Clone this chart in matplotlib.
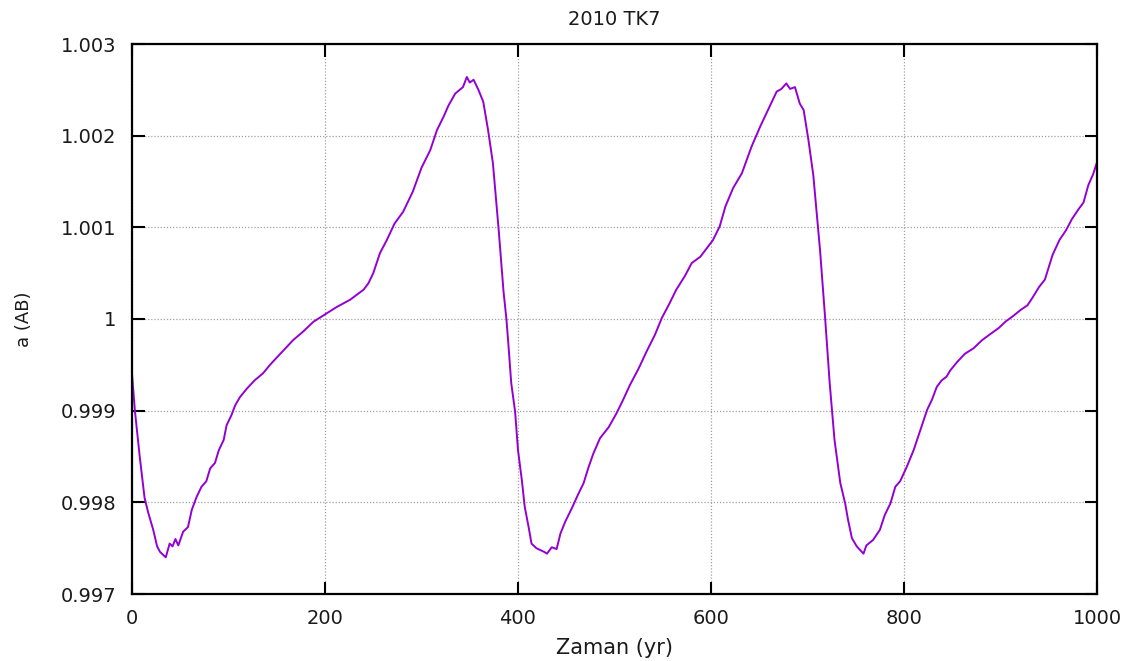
import matplotlib
matplotlib.use("Agg")
import matplotlib.pyplot as plt

# Time (yr) and semi-major axis a (AU)
t_yr = [0, 3, 8, 13, 17, 22, 26, 29, 32, 35, 39, 42, 45, 48, 53, 58, 62, 67, 72, 77,
        81, 86, 90, 95, 98, 103, 107, 112, 119, 127, 136, 143, 151, 159, 167, 177, 188, 200,
        212, 226, 240, 245, 250, 257, 264, 272, 281, 291, 300, 309, 316, 323, 328, 335, 343,
        347, 350, 354, 359, 364, 369, 374, 380, 385, 388, 390, 393, 397, 400, 404, 407, 411,
        414, 419, 423, 427, 430, 435, 440, 444, 449, 456, 462, 468, 473, 478, 485, 494, 502,
        509, 516, 525, 533, 542, 549, 557, 564, 573, 580, 589, 597, 602, 609, 615, 623, 632,
        642, 651, 659, 668, 673, 678, 682, 687, 692, 696, 701, 706, 713, 718, 723, 728, 734,
        739, 742, 746, 751, 758, 761, 768, 775, 780, 786, 791, 796, 803, 810, 817, 824, 829,
        834, 839, 844, 848, 855, 863, 872, 881, 890, 898, 905, 914, 921, 928, 933, 940, 946,
        949, 954, 961, 968, 974, 981, 986, 991, 996, 1000]

a_au = [0.99940, 0.99900, 0.99850, 0.99805, 0.99788, 0.99770, 0.99752, 0.99746, 0.99743, 0.99740,
        0.99755, 0.99752, 0.99760, 0.99753, 0.99768, 0.99773, 0.99792, 0.99806, 0.99817, 0.99823,
        0.99837, 0.99843, 0.99857, 0.99868, 0.99884, 0.99895, 0.99906, 0.99915, 0.99924, 0.99933,
        0.99941, 0.99950, 0.99959, 0.99968, 0.99977, 0.99986, 0.99997, 1.00005,
        1.00013, 1.00021, 1.00032, 1.00039, 1.00050, 1.00072, 1.00086, 1.00104, 1.00117, 1.00139,
        1.00165, 1.00184, 1.00206, 1.00221, 1.00233, 1.00246, 1.00253,
        1.00264, 1.00258, 1.00261, 1.00250, 1.00237, 1.00206, 1.00170, 1.00097, 1.00030, 1.00000,
        0.99973, 0.99930, 0.99899, 0.99857, 0.99824, 0.99795, 0.99773,
        0.99755, 0.99750, 0.99748, 0.99746, 0.99744, 0.99751, 0.99749, 0.99766, 0.99779, 0.99794,
        0.99808, 0.99821, 0.99838, 0.99853, 0.99870, 0.99882, 0.99897,
        0.99912, 0.99928, 0.99946, 0.99964, 0.99983, 1.00001, 1.00017, 1.00032, 1.00047, 1.00061,
        1.00068, 1.00079, 1.00086, 1.00101, 1.00123, 1.00143, 1.00159,
        1.00188, 1.00210, 1.00228, 1.00248, 1.00251, 1.00257, 1.00251, 1.00253, 1.00235, 1.00228,
        1.00195, 1.00157, 1.00075, 1.00005, 0.99930, 0.99868, 0.99821,
        0.99799, 0.99781, 0.99761, 0.99752, 0.99744, 0.99753, 0.99759, 0.99770, 0.99786, 0.99799,
        0.99817, 0.99823, 0.99839, 0.99857, 0.99879, 0.99901, 0.99912,
        0.99926, 0.99933, 0.99937, 0.99944, 0.99953, 0.99962, 0.99968, 0.99977, 0.99984, 0.99990,
        0.99997, 1.00004, 1.00010, 1.00015, 1.00023, 1.00035, 1.00043,
        1.00053, 1.00070, 1.00086, 1.00097, 1.00109, 1.00120, 1.00127, 1.00146, 1.00158, 1.00171]

x_ticks = [0, 200, 400, 600, 800, 1000]
x_tick_labels = ["0", "200", "400", "600", "800", "1000"]
y_ticks = [0.997, 0.998, 0.999, 1.000, 1.001, 1.002, 1.003]
y_tick_labels = ["0.997", "0.998", "0.999", "1", "1.001", "1.002", "1.003"]

title = "2010 TK7"
xlabel = "Zaman (yr)"
ylabel = "a (AB)"

fig = plt.figure(figsize=(11.38, 6.61), dpi=100)
ax = fig.add_axes([132 / 1138, 1 - 594 / 661, (1097 - 132) / 1138, (594 - 44) / 661])

ax.plot(t_yr, a_au, color="#9400D3", lw=1.4)

ax.set_xlim(0, 1000)
ax.set_ylim(0.997, 1.003)
ax.set_xticks(x_ticks)
ax.set_xticklabels(x_tick_labels)
ax.set_yticks(y_ticks)
ax.set_yticklabels(y_tick_labels)

ax.grid(True, color="#a0a0a0", linestyle=(0, (1, 1.5)), linewidth=0.9)
ax.set_axisbelow(True)

for s in ax.spines.values():
    s.set_linewidth(1.6)
    s.set_color("black")

ax.tick_params(direction="in", length=9, width=1.5, top=True, right=True,
               labelsize=14, colors="black", pad=11)
for lab in ax.get_xticklabels() + ax.get_yticklabels():
    lab.set_color("#1a1a1a")

ax.set_title(title, fontsize=14, pad=14, color="#1a1a1a")
ax.set_xlabel(xlabel, fontsize=15, labelpad=7, color="#1a1a1a")
ax.set_ylabel(ylabel, fontsize=13, labelpad=20, color="#1a1a1a")

fig.savefig("out.png", dpi=100)
